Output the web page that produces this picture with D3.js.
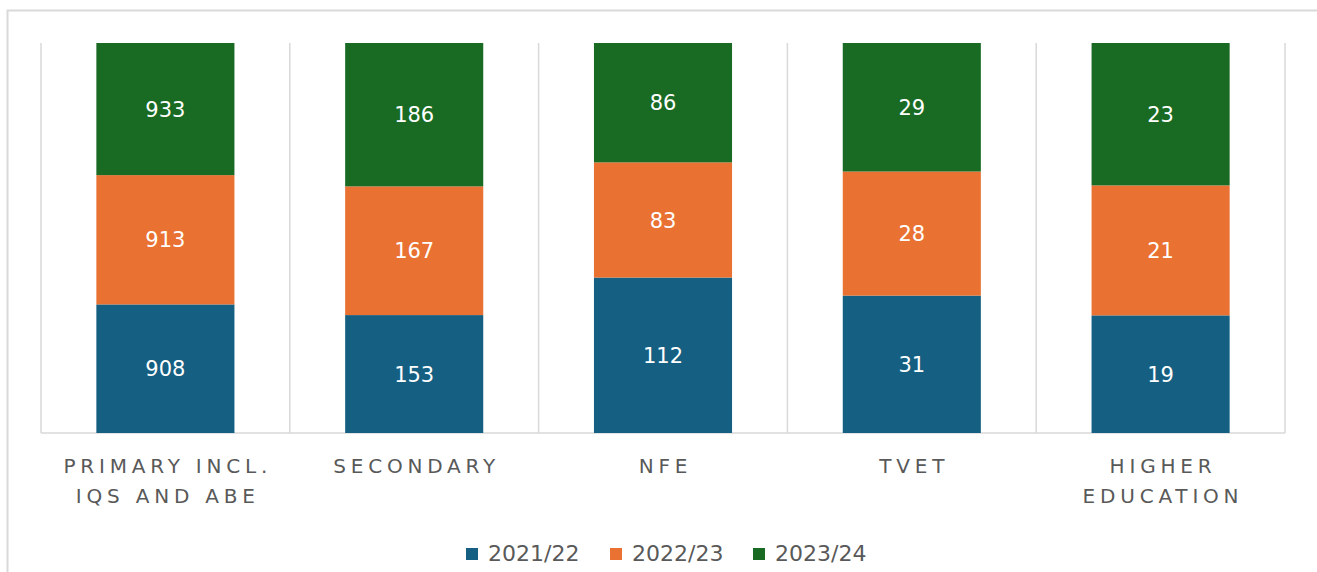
<!DOCTYPE html>
<html>
<head>
<meta charset="utf-8">
<script src="https://cdn.jsdelivr.net/npm/d3@7"></script>
<style>
  html, body { margin: 0; padding: 0; background: #ffffff; }
  svg { display: block; font-family: "DejaVu Sans", "Liberation Sans", Arial, sans-serif; }
</style>
</head>
<body>
<svg id="chart" width="1317" height="572"></svg>
<script>
// Education levels, each drawn as a 100% stacked column of three school years
const categories = [["PRIMARY INCL.", "IQS AND ABE"], ["SECONDARY"], ["NFE"], ["TVET"], ["HIGHER", "EDUCATION"]];
const seriesNames = ["2021/22", "2022/23", "2023/24"];
const values2021 = [908, 153, 112, 31, 19];
const values2022 = [913, 167, 83, 28, 21];
const values2023 = [933, 186, 86, 29, 23];
const seriesColors = ["#156082", "#e97132", "#196b24"];

const svg = d3.select("#chart");
const W = 1317, H = 572;
const plot = { left: 41, right: 1285, top: 43, bottom: 433 };

// outer frame
svg.append("path")
  .attr("d", `M7.5,${H} L7.5,10.5 L${W},10.5`)
  .attr("fill", "none").attr("stroke", "#d9d9d9").attr("stroke-width", 2);

const keys = categories.map((c, i) => i);
const rows = keys.map(i => ({
  key: i,
  "2021/22": values2021[i],
  "2022/23": values2022[i],
  "2023/24": values2023[i]
}));

const x = d3.scaleBand().domain(keys).range([plot.left, plot.right]).paddingInner(0).paddingOuter(0);
const y = d3.scaleLinear().domain([0, 1]).range([plot.bottom, plot.top]);
const color = d3.scaleOrdinal().domain(seriesNames).range(seriesColors);

const stacked = d3.stack().keys(seriesNames).offset(d3.stackOffsetExpand)(rows);

// category separators
const grid = svg.append("g").attr("stroke", "#d9d9d9").attr("stroke-width", 1.5);
keys.concat([keys.length]).forEach(i => {
  const gx = i < keys.length ? x(i) : plot.right;
  grid.append("line").attr("x1", gx).attr("x2", gx).attr("y1", plot.top).attr("y2", plot.bottom);
});
grid.append("line").attr("x1", plot.left).attr("x2", plot.right).attr("y1", plot.bottom).attr("y2", plot.bottom);

const barW = x.bandwidth() * 0.555;
const layers = svg.append("g").selectAll("g").data(stacked).join("g")
  .attr("fill", d => color(d.key));

layers.selectAll("rect").data(d => d).join("rect")
  .attr("x", d => x(d.data.key) + (x.bandwidth() - barW) / 2)
  .attr("width", barW)
  .attr("y", d => y(d[1]))
  .attr("height", d => y(d[0]) - y(d[1]));

// value labels
stacked.forEach(layer => {
  svg.append("g").selectAll("text").data(layer).join("text")
    .attr("x", d => x(d.data.key) + x.bandwidth() / 2)
    .attr("y", d => (y(d[0]) + y(d[1])) / 2)
    .attr("dy", "0.36em")
    .attr("text-anchor", "middle")
    .attr("fill", "#ffffff")
    .attr("font-size", 21)
    .text(d => d.data[layer.key]);
});

// category axis labels
const xLabels = svg.append("g");
const spacing = 4.8;
categories.forEach((lines, i) => {
  const t = xLabels.append("text")
    .attr("y", 473)
    .attr("text-anchor", "middle")
    .attr("fill", "#595959")
    .attr("font-size", 20)
    .attr("letter-spacing", spacing + "px");
  lines.forEach((ln, j) => {
    t.append("tspan").attr("x", x(i) + x.bandwidth() / 2 + spacing / 2).attr("dy", j === 0 ? 0 : 30).text(ln);
  });
});

// legend
const legendX = [466, 610, 753];
const legend = svg.append("g");
seriesNames.forEach((name, i) => {
  legend.append("rect").attr("x", legendX[i]).attr("y", 548).attr("width", 12).attr("height", 12).attr("fill", color(name));
  legend.append("text").attr("x", legendX[i] + 22).attr("y", 561)
    .attr("fill", "#595959").attr("font-size", 22).text(name);
});
</script>
</body>
</html>
